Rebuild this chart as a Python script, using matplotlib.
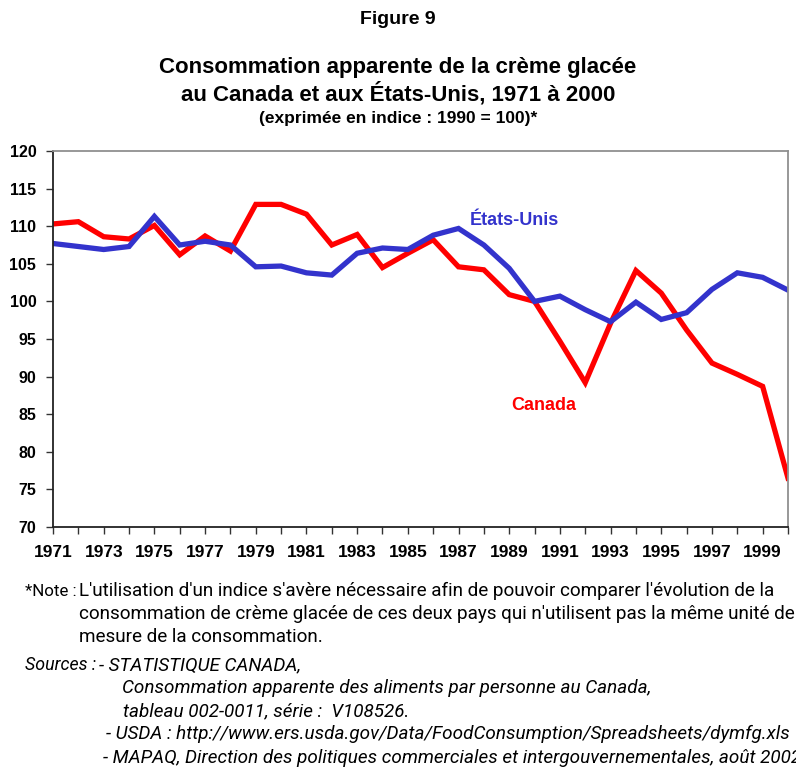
import numpy as np
import matplotlib.pyplot as plt

years = list(range(1971, 2001))
canada = [110.3, 110.6, 108.6, 108.3, 110.1, 106.2, 108.7, 106.7, 112.9, 112.9,
          111.6, 107.5, 108.9, 104.5, 106.4, 108.2, 104.6, 104.2, 100.9, 100.0,
          94.7, 89.2, 97.1, 104.1, 101.1, 96.2, 91.8, 90.3, 88.7, 76.5]
usa = [107.7, 107.3, 106.9, 107.3, 111.3, 107.5, 108.0, 107.5, 104.6, 104.7,
       103.8, 103.5, 106.4, 107.1, 106.9, 108.8, 109.7, 107.5, 104.4, 100.0,
       100.7, 98.9, 97.3, 99.9, 97.6, 98.5, 101.6, 103.8, 103.2, 101.5]
yticks = list(range(70, 121, 5))

plt.rcParams['font.family'] = ['Liberation Sans', 'DejaVu Sans']

fig = plt.figure(figsize=(7.96, 7.68), dpi=100)
ax = fig.add_axes([53/796, 1 - 527/768, 735/796, 376/768])

ax.plot(years, canada, color='#ff0000', lw=3.8, solid_joinstyle='miter')
ax.plot(years, usa, color='#3333cc', lw=3.8, solid_joinstyle='miter')

ax.set_xlim(1971, 2000)
ax.set_ylim(70, 120)
ax.set_yticks(yticks)
ax.set_xticks(years)
ax.set_xticklabels([str(y) if (y - 1971) % 2 == 0 else '' for y in years])
ax.tick_params(axis='both', width=1, length=5, color='#333333')
ax.tick_params(axis='x', pad=8, labelsize=12.5)
ax.tick_params(axis='y', pad=7, labelsize=11.5)
for lab in ax.get_xticklabels() + ax.get_yticklabels():
    lab.set_fontweight('bold')
ax.spines['left'].set_color('#222222')
ax.spines['bottom'].set_color('#222222')
ax.spines['top'].set_color('#909090')
ax.spines['right'].set_color('#909090')
for s in ax.spines.values():
    s.set_linewidth(1.3)

ax.text(1987.45, 110.8, 'États-Unis', color='#3333cc', fontsize=13, fontweight='bold', va='center')
ax.text(1989.1, 86.1, 'Canada', color='#ff0000', fontsize=13, fontweight='bold', va='center')

fig.text(0.5, 1 - 20/768, 'Figure 9', ha='center', va='center', fontsize=14, fontweight='bold')
fig.text(0.5, 1 - 67/768, 'Consommation apparente de la crème glacée', ha='center', va='center',
         fontsize=16, fontweight='bold')
fig.text(0.5, 1 - 94/768, 'au Canada et aux États-Unis, 1971 à 2000', ha='center', va='center',
         fontsize=16, fontweight='bold')
fig.text(0.5, 1 - 118/768, '(exprimée en indice : 1990 = 100)*', ha='center', va='center',
         fontsize=12.5, fontweight='bold')

nfont = ['Roboto', 'DejaVu Sans']
def note(x, y, s, style='normal', size=13.6):
    fig.text(x/796, 1 - y/768, s, ha='left', va='center', fontsize=size, style=style, family=nfont)

note(25, 591, "*Note :", size=12.2)
note(79, 591, "L'utilisation d'un indice s'avère nécessaire afin de pouvoir comparer l'évolution de la")
note(79, 614, "consommation de crème glacée de ces deux pays qui n'utilisent pas la même unité de")
note(79, 637, "mesure de la consommation.")
note(25, 665, "Sources :", 'italic', size=12.8)
note(99, 665, "- STATISTIQUE CANADA,", 'italic')
note(122, 688, "Consommation apparente des aliments par personne au Canada,", 'italic')
note(123, 711, "tableau 002-0011, série :  V108526.", 'italic')
note(106, 734, "- USDA : http://www.ers.usda.gov/Data/FoodConsumption/Spreadsheets/dymfg.xls", 'italic')
note(103, 758, "- MAPAQ, Direction des politiques commerciales et intergouvernementales, août 2002.", 'italic')

fig.savefig('out.png', dpi=100)
